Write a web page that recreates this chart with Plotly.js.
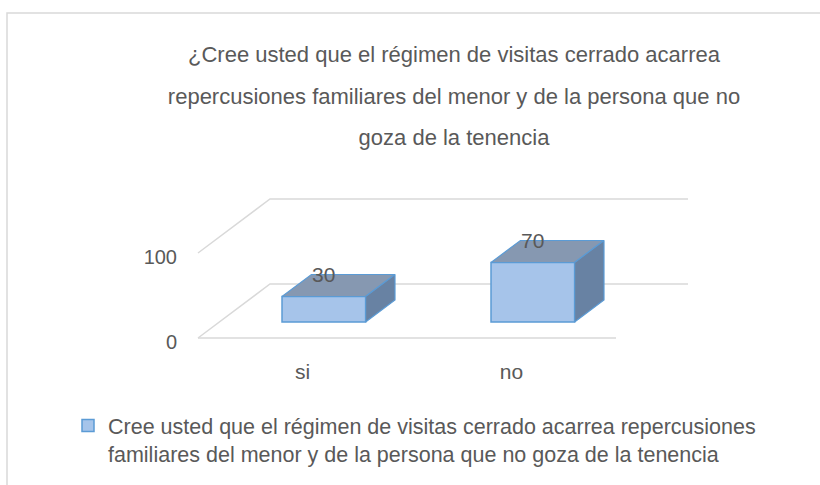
<!DOCTYPE html>
<html><head><meta charset="utf-8">
<script src="https://cdn.plot.ly/plotly-3.0.1.min.js"></script>
<style>html,body{margin:0;padding:0;background:#fff;} #chart{width:820px;height:485px;}</style>
</head><body><div id="chart"></div>
<script>
// ---- data ----
const categories = ['si', 'no'];
const values = [30, 70];
const yTickValues = [0, 100];
const seriesName = 'Cree usted que el régimen de visitas cerrado acarrea repercusiones<br>familiares del menor y de la persona que no goza de la tenencia';
const titleLines = ['¿Cree usted que el régimen de visitas cerrado acarrea',
                    'repercusiones familiares del menor y de la persona que no',
                    'goza de la tenencia'];

// ---- geometry / style ----
const W = 820, H = 485;
const L = 190, R = 120, T = 188, B = 140;
const plotW = W - L - R, plotH = H - T - B;
const pxPerX = 209, pxPerY = 0.85;
const frontLeftPx = 198, floorPy = 338;
const DX = 72 / pxPerX;          // full-depth horizontal offset (data units)
const DY = 54 / pxPerY;          // full-depth vertical offset (data units)
const Z0 = 0.296, Z1 = 0.704;    // bar front/back depth
const BW = 0.40;                 // bar width
const x0 = -0.5 - (frontLeftPx - L) / pxPerX;
const xRange = [x0, x0 + plotW / pxPerX];
const yBottom = -(H - B - floorPy) / pxPerY;
const yRange = [yBottom, yBottom + plotH / pxPerY];
const gray = '#595959', gridCol = '#d9d9d9', edge = '#5b9bd5';
const nCat = categories.length;
const xLeft = -0.5, xRight = nCat - 0.5;

function pxX(px) { return (px - L) / plotW; }
function pxY(py) { return (H - B - py) / plotH; }

const traces = [];
// top and side faces
values.forEach((v, i) => {
  const xl = i + Z0 * DX - BW / 2, xr = xl + BW;
  const b0 = Z0 * DY, d = Z1 - Z0;
  traces.push({
    type: 'scatter', mode: 'lines', fill: 'toself', showlegend: false, hoverinfo: 'skip',
    x: [xl, xr, xr + d * DX, xl + d * DX, xl],
    y: [v + b0, v + b0, v + b0 + d * DY, v + b0 + d * DY, v + b0],
    fillcolor: '#8698b1', line: {color: edge, width: 1.2}
  });
  traces.push({
    type: 'scatter', mode: 'lines', fill: 'toself', showlegend: false, hoverinfo: 'skip',
    x: [xr, xr + d * DX, xr + d * DX, xr, xr],
    y: [v + b0, v + b0 + d * DY, b0 + d * DY, b0, v + b0],
    fillcolor: '#6882a3', line: {color: edge, width: 1.2}
  });
});
// front faces
traces.push({
  type: 'bar', name: seriesName,
  x: values.map((v, i) => i + Z0 * DX),
  y: values,
  base: values.map(() => Z0 * DY),
  width: BW,
  marker: {color: '#a6c4ea', line: {color: edge, width: 1.5}},
  hoverinfo: 'skip'
});

const shapes = [];
yTickValues.forEach(v => {
  shapes.push({type: 'path', xref: 'x', yref: 'y', layer: 'below',
    path: `M${xLeft},${v} L${xLeft + DX},${v + DY} L${xRight + DX},${v + DY}`,
    line: {color: gridCol, width: 1.5}});
});
shapes.push({type: 'path', xref: 'x', yref: 'y', layer: 'below',
  path: `M${xLeft},0 L${xRight},0`, line: {color: gridCol, width: 1.5}});
// chart frame
shapes.push({type: 'rect', xref: 'paper', yref: 'paper', layer: 'below',
  x0: pxX(7), x1: pxX(830), y0: pxY(495), y1: pxY(13),
  line: {color: gridCol, width: 1.5}});

const annotations = values.map((v, i) => ({
  x: i + Z0 * DX, y: v + Z1 * DY, xref: 'x', yref: 'y',
  text: String(v), showarrow: false,
  font: {family: 'Liberation Sans, Arial, sans-serif', size: 21, color: gray},
  xanchor: 'center', yanchor: 'middle'
}));

const titleText = titleLines.map(s => '<span style="font-size:22px">' + s + '</span>').join('<br>');

const layout = {
  width: W, height: H,
  margin: {l: L, r: R, t: T, b: B, pad: 0, autoexpand: false},
  paper_bgcolor: '#ffffff', plot_bgcolor: 'rgba(0,0,0,0)',
  title: {text: titleText, xref: 'container', yref: 'container', x: 454 / W, y: 1 - 62 / H,
    xanchor: 'center', yanchor: 'top', automargin: false,
    font: {family: 'Liberation Sans, Arial, sans-serif', size: 32, color: gray}},
  xaxis: {range: xRange, tickvals: categories.map((c, i) => i), ticktext: categories,
    showgrid: false, zeroline: false, showline: false, ticks: '', ticklabelstandoff: 12,
    tickfont: {family: 'Liberation Sans, Arial, sans-serif', size: 21, color: gray}, fixedrange: true},
  yaxis: {range: yRange, tickvals: yTickValues, ticktext: yTickValues.map(String),
    showgrid: false, zeroline: false, showline: false, ticks: '', ticklabelstandoff: 12,
    ticklabelshift: 4,
    tickfont: {family: 'Liberation Sans, Arial, sans-serif', size: 20, color: gray}, fixedrange: true},
  barmode: 'overlay',
  showlegend: true,
  legend: {x: pxX(68), y: pxY(405), xanchor: 'left', yanchor: 'top', valign: 'top',
    bgcolor: 'rgba(0,0,0,0)', itemwidth: 30,
    font: {family: 'Liberation Sans, Arial, sans-serif', size: 21.5, color: gray}},
  shapes: shapes,
  annotations: annotations
};

Plotly.newPlot('chart', traces, layout, {displayModeBar: false, staticPlot: true});
</script>
</body></html>
